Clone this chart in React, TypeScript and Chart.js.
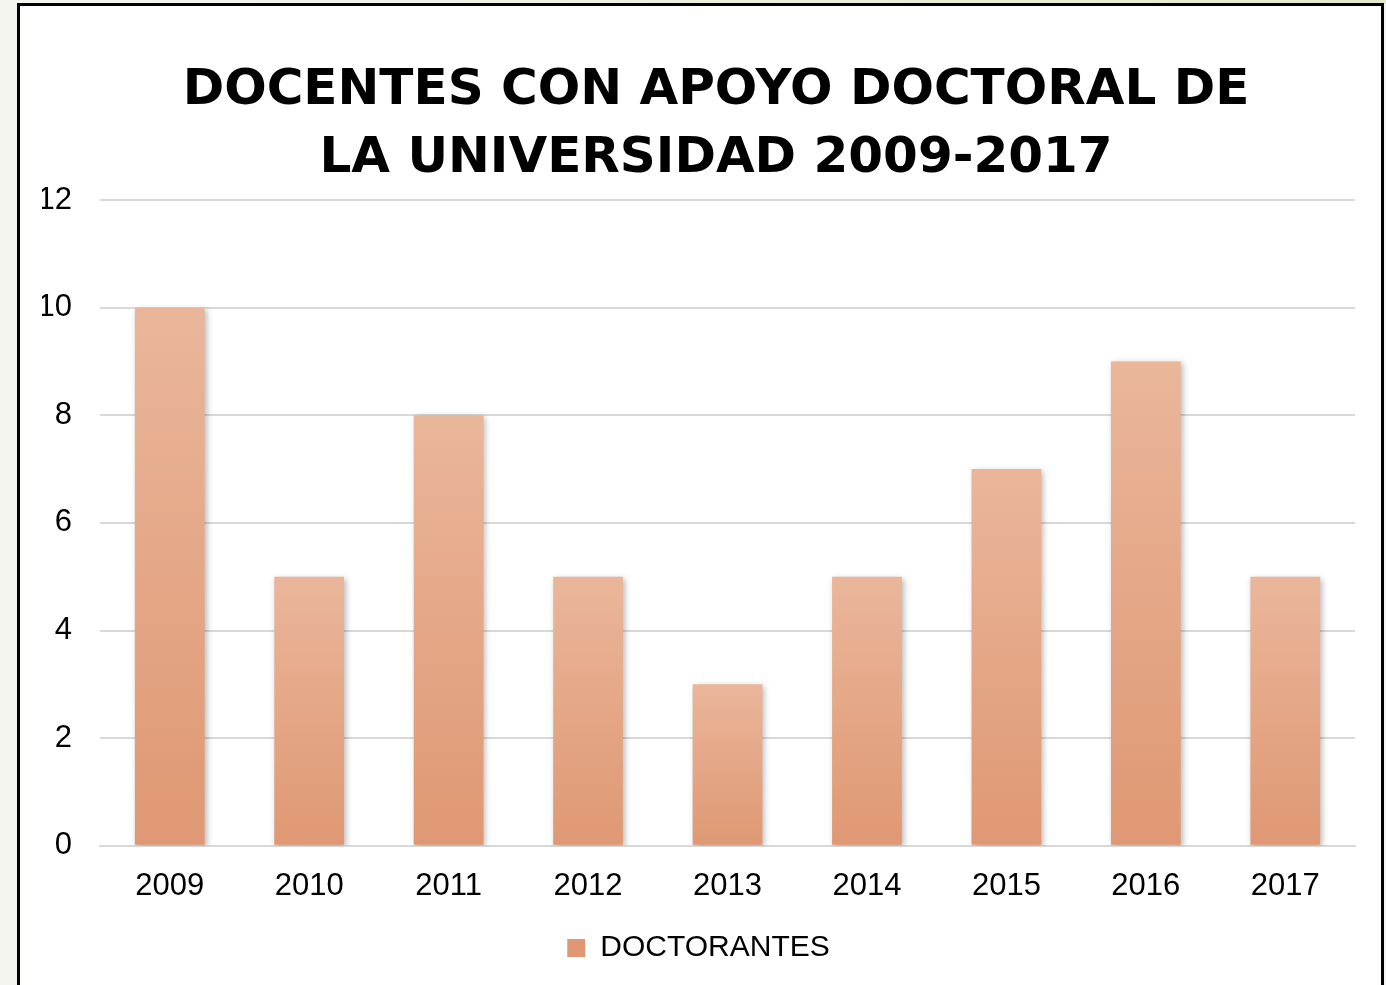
import React, { useEffect, useRef } from "react";
import { Chart, registerables } from "chart.js";

Chart.register(...registerables);

const categories = ["2009", "2010", "2011", "2012", "2013", "2014", "2015", "2016", "2017"];
const doctorantes = [10, 5, 8, 5, 3, 5, 7, 9, 5];
const seriesLabel = "DOCTORANTES";
const titleLines = ["DOCENTES CON APOYO DOCTORAL DE", "LA UNIVERSIDAD 2009-2017"];
const yTicksMax = 12;
const yTicksStep = 2;

const TOP_COLOR = "#eab69a";
const BOTTOM_COLOR = "#df9873";
const FLAT_COLOR = "#e4a583";
const TICK_FONT = "'Liberation Sans', Arial, sans-serif";

const shadowPlugin = {
  id: "barShadow",
  beforeDatasetsDraw(chart: any) {
    const ctx = chart.ctx;
    ctx.save();
    ctx.shadowColor = "rgba(0,0,0,0.28)";
    ctx.shadowBlur = 6;
    ctx.shadowOffsetX = 2;
    ctx.shadowOffsetY = 2;
  },
  afterDatasetsDraw(chart: any) {
    chart.ctx.restore();
  },
};

const titlePlugin = {
  id: "customTitle",
  afterDraw(chart: any) {
    const ctx = chart.ctx;
    ctx.save();
    ctx.fillStyle = "#000";
    ctx.font = "bold 50px 'DejaVu Sans'";
    ctx.textAlign = "center";
    ctx.textBaseline = "middle";
    const cx = 696;
    const ys = [85, 153];
    titleLines.forEach((line, i) => ctx.fillText(line, cx, ys[i]));
    ctx.restore();
  },
};

export default function App() {
  const ref = useRef<HTMLCanvasElement | null>(null);

  useEffect(() => {
    if (!ref.current) return;
    const chart = new Chart(ref.current, {
      type: "bar",
      data: {
        labels: categories,
        datasets: [
          {
            label: seriesLabel,
            data: doctorantes,
            backgroundColor: (ctx: any) => {
              if (ctx.type !== "data") return FLAT_COLOR;
              const c = ctx.chart;
              const y = c.scales && c.scales.y;
              if (!c.chartArea || !y) return FLAT_COLOR;
              const top = y.getPixelForValue(ctx.raw);
              const base = y.getPixelForValue(0);
              if (!isFinite(top) || !isFinite(base) || top === base) return FLAT_COLOR;
              const g = c.ctx.createLinearGradient(0, top, 0, base);
              g.addColorStop(0, TOP_COLOR);
              g.addColorStop(1, BOTTOM_COLOR);
              return g;
            },
            borderWidth: 0,
            categoryPercentage: 1,
            barPercentage: 0.5,
          },
        ],
      },
      options: {
        animation: false,
        responsive: false,
        maintainAspectRatio: false,
        layout: { padding: { left: 22, right: 26, top: 194, bottom: 12 } },
        plugins: {
          title: { display: false },
          legend: {
            display: true,
            position: "bottom",
            labels: {
              color: "#000",
              font: { family: TICK_FONT, size: 30 },
              boxWidth: 18,
              boxHeight: 18,
              padding: 14,
            },
          },
          tooltip: { enabled: false },
        },
        scales: {
          x: {
            grid: { display: false },
            border: { display: true, color: "#d9d9d9", width: 2 },
            ticks: {
              color: "#000",
              font: { family: TICK_FONT, size: 31 },
              padding: 14,
              maxRotation: 0,
            },
          },
          y: {
            min: 0,
            max: yTicksMax,
            afterFit: (scale: any) => {
              scale.width = 58;
            },
            grid: { color: "#d9d9d9", lineWidth: 2, drawTicks: false },
            border: { display: false },
            ticks: {
              stepSize: yTicksStep,
              color: "#000",
              font: { family: TICK_FONT, size: 31 },
              padding: 28,
            },
          },
        },
      },
      plugins: [shadowPlugin, titlePlugin],
    } as any);
    return () => chart.destroy();
  }, []);

  return (
    <div
      style={{
        position: "fixed",
        left: 0,
        top: 0,
        width: 1386,
        height: 985,
        overflow: "hidden",
        background: "#f4f5ef",
      }}
    >
      <div
        style={{
          position: "absolute",
          left: 0,
          top: 0,
          width: 1386,
          height: 4,
          background: "linear-gradient(to right, #f4f5ef, #e3eacb)",
        }}
      />
      <div
        style={{
          position: "absolute",
          left: 17,
          top: 3,
          width: 1361,
          height: 1000,
          border: "3px solid #000",
          background: "#fff",
        }}
      >
        <canvas ref={ref} width={1361} height={979} style={{ display: "block" }} />
      </div>
    </div>
  );
}
